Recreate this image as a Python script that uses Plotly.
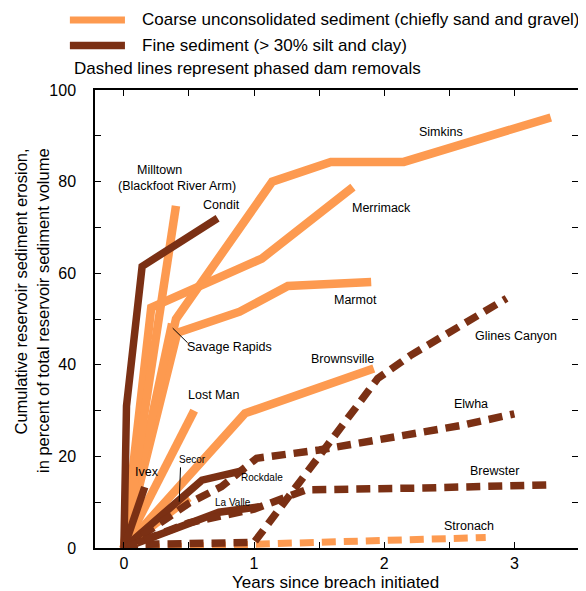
import plotly.graph_objects as go

# ---------------- data (years since breach, cumulative % eroded) ----------------
# Coarse sediment, solid lines
simkins_x = [0, 0.40, 1.14, 1.59, 2.15, 3.28]
simkins_y = [0, 50, 80, 84.3, 84.3, 94]
merrimack_x = [0, 0.21, 1.06, 1.76]
merrimack_y = [0, 52.5, 63.2, 78.8]
marmot_x = [0, 0.41, 0.89, 1.26, 1.90]
marmot_y = [0, 47, 51.6, 57.2, 58.1]
savage_x = [0, 0.33, 0.37]
savage_y = [0, 45, 49]
milltown_x = [0, 0.40]
milltown_y = [0, 74.7]
lostman_x = [0, 0.54]
lostman_y = [0, 30]
brownsville_x = [0, 0.93, 1.92]
brownsville_y = [0, 29.4, 39.2]
secor_x = [0, 0.5]
secor_y = [0, 11]

# Fine sediment, solid lines
condit_x = [0, 0.02, 0.14, 0.72]
condit_y = [0, 31, 61.5, 72]
ivex_x = [0, 0.16]
ivex_y = [0, 13.3]
rockdale_x = [0, 0.6, 0.93]
rockdale_y = [0, 14.8, 17]
lavalle_x = [0, 0.73, 1.04]
lavalle_y = [0, 7.8, 9]

# Phased removals, dashed lines
glines_x = [0, 0.15, 1.0, 1.95, 2.2, 2.94]
glines_y = [0, 0.8, 1.2, 37, 42, 54.5]
elwha_x = [0, 0.5, 0.75, 1.02, 1.5, 2.0, 2.6, 3.0]
elwha_y = [0, 9.8, 13.4, 19.6, 21.4, 23.8, 26.8, 29.3]
brewster_x = [0, 0.5, 1.0, 1.4, 2.3, 3.27]
brewster_y = [0, 5.5, 8.5, 12.7, 13.1, 13.8]
stronach_x = [0, 1.0, 2.0, 2.78]
stronach_y = [0, 0.8, 1.5, 2.3]

x_tick_vals = [0, 0.5, 1, 1.5, 2, 2.5, 3]
x_tick_text = ["0", "", "1", "", "2", "", "3"]
y_tick_vals = [0, 10, 20, 30, 40, 50, 60, 70, 80, 90, 100]
y_tick_text = ["0", "", "20", "", "40", "", "60", "", "80", "", "100"]

# ---------------- style ----------------
ORANGE = "#FD9A50"
BROWN = "#7B3014"
FONT = "Liberation Sans, Arial, sans-serif"
DASH = "14px,8px"

fig = go.Figure()

def add(xs, ys, color, width, dash="solid"):
    fig.add_trace(go.Scatter(x=xs, y=ys, mode="lines",
                             line=dict(color=color, width=width, dash=dash),
                             showlegend=False, hoverinfo="skip"))

# coarse solid
for xs, ys in [(simkins_x, simkins_y), (merrimack_x, merrimack_y),
               (marmot_x, marmot_y), (savage_x, savage_y),
               (milltown_x, milltown_y), (lostman_x, lostman_y),
               (brownsville_x, brownsville_y), (secor_x, secor_y)]:
    add(xs, ys, ORANGE, 8.5)

# fine solid
for xs, ys in [(condit_x, condit_y), (ivex_x, ivex_y),
               (rockdale_x, rockdale_y), (lavalle_x, lavalle_y)]:
    add(xs, ys, BROWN, 7.5)

# dashed (phased)
add(stronach_x, stronach_y, ORANGE, 7, DASH)
for xs, ys in [(glines_x, glines_y), (elwha_x, elwha_y), (brewster_x, brewster_y)]:
    add(xs, ys, BROWN, 7.5, DASH)

# leader lines
savage_leader_x = [0.375, 0.49]
savage_leader_y = [48.0, 44.8]
secor_leader_x = [0.435, 0.425]
secor_leader_y = [17.6, 10.1]
for xs, ys in [(savage_leader_x, savage_leader_y), (secor_leader_x, secor_leader_y)]:
    add(xs, ys, "black", 1)

# series labels (text, x, y, size)
labels = [
    ("Simkins", 2.44, 90.8, 12.5),
    ("Merrimack", 1.98, 74.2, 12.5),
    ("Marmot", 1.78, 54.1, 12.5),
    ("Glines Canyon", 3.01, 46.3, 12.5),
    ("Brownsville", 1.68, 41.2, 12.5),
    ("Elwha", 2.67, 31.4, 12.5),
    ("Brewster", 2.85, 16.8, 12.5),
    ("Stronach", 2.65, 4.8, 12.5),
    ("Milltown", 0.275, 82.6, 12.5),
    ("(Blackfoot River Arm)", 0.405, 79.0, 12.5),
    ("Condit", 0.75, 74.9, 12.5),
    ("Savage Rapids", 0.81, 43.9, 12.5),
    ("Lost Man", 0.69, 33.4, 12.5),
    ("Ivex", 0.18, 16.6, 12.5),
    ("Secor", 0.53, 19.4, 10),
    ("Rockdale", 1.06, 15.3, 10),
    ("La Valle", 0.84, 10.0, 10),
]
for t, lx, ly, s in labels:
    fig.add_annotation(x=lx, y=ly, text=t, showarrow=False, xref="x", yref="y",
                       xanchor="center", yanchor="middle",
                       font=dict(family=FONT, size=s, color="black"))

# legend (drawn manually)
fig.add_shape(type="line", xref="paper", yref="paper", x0=-0.052, x1=0.062,
              y0=1.153, y1=1.153, line=dict(color=ORANGE, width=7))
fig.add_shape(type="line", xref="paper", yref="paper", x0=-0.052, x1=0.062,
              y0=1.097, y1=1.097, line=dict(color=BROWN, width=7.5))
legend_texts = [
    ("Coarse unconsolidated sediment (chiefly sand and gravel)", 0.093, 1.153),
    ("Fine sediment (> 30% silt and clay)", 0.093, 1.097),
    ("Dashed lines represent phased dam removals", -0.047, 1.046),
]
for t, px, py in legend_texts:
    fig.add_annotation(x=px, y=py, xref="paper", yref="paper", text=t,
                       showarrow=False, xanchor="left", yanchor="middle",
                       font=dict(family=FONT, size=17, color="black"))

# axis titles
fig.add_annotation(x=0.497, y=-0.076, xref="paper", yref="paper",
                   text="Years since breach initiated", showarrow=False,
                   xanchor="center", yanchor="middle",
                   font=dict(family=FONT, size=17, color="black"))
fig.add_annotation(x=-0.131, y=0.519, xref="paper", yref="paper",
                   text="Cumulative reservoir sediment erosion,<br>in percent of total reservoir sediment volume",
                   showarrow=False, textangle=-90, align="right",
                   xanchor="center", yanchor="middle",
                   font=dict(family=FONT, size=16.5, color="black"))

axis_common = dict(showgrid=False, zeroline=False, showline=True, linecolor="black",
                   linewidth=1.5, mirror="ticks", ticks="inside", ticklen=6,
                   tickwidth=1.2, tickcolor="black",
                   tickfont=dict(family=FONT, size=16, color="black"))
fig.update_xaxes(range=[-0.222, 3.489], tickvals=x_tick_vals, ticktext=x_tick_text,
                 ticklabelstandoff=0, **axis_common)
fig.update_yaxes(range=[0, 100], tickvals=y_tick_vals, ticktext=y_tick_text,
                 ticklabelstandoff=14, **axis_common)

# the page body adds an 8px margin, so the figure is sized to fit inside it
fig.update_layout(width=578, height=583, margin=dict(l=87, r=6, t=82, b=43),
                  plot_bgcolor="white", paper_bgcolor="white",
                  font=dict(family=FONT, color="black"))

fig.write_html("out.html")
